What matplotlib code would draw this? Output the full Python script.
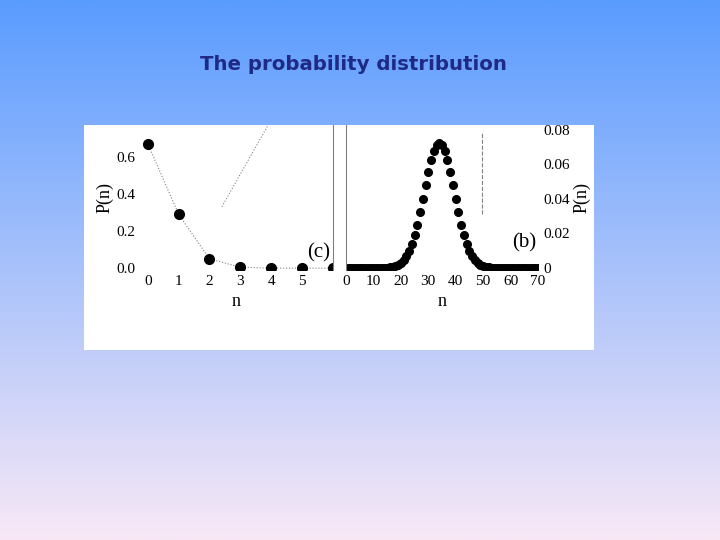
import numpy as np
import matplotlib
matplotlib.use("Agg")
import matplotlib.pyplot as plt

# left panel (small n)
n_left = [0, 1, 2, 3, 4, 5, 6]
p_left = [0.67, 0.29, 0.05, 0.005, 0.0, 0.0, 0.0]

# right panel (large n)
n_right = list(range(0, 71))
p_right = ([0.0] * 14 +
           [0.0001, 0.0002, 0.0003, 0.0006, 0.0011, 0.0018, 0.0029, 0.0044, 0.0067, 0.0098,
            0.0138, 0.0190, 0.0251, 0.0323, 0.0401, 0.0481, 0.0557, 0.0624, 0.0679, 0.0713,
            0.0725,
            0.0713, 0.0679, 0.0624, 0.0557, 0.0481, 0.0401, 0.0323, 0.0251, 0.0190, 0.0138,
            0.0098, 0.0067, 0.0044, 0.0029, 0.0018, 0.0011, 0.0006, 0.0003, 0.0002, 0.0001] +
           [0.0] * 16)

W, H = 720, 540
fig = plt.figure(figsize=(7.2, 5.4), dpi=100)

# slide background gradient
bg = fig.add_axes([0, 0, 1, 1])
top = np.array([0x5a, 0x9c, 0xff]) / 255
bot = np.array([0xf8, 0xe8, 0xf6]) / 255
t = np.linspace(0, 1, 256)[:, None]
grad = top * (1 - t) + bot * t
bg.imshow(grad[:, None, :], aspect="auto", extent=[0, 1, 0, 1])
bg.axis("off")

fig.text(353 / W, 1 - 64 / H, "The probability distribution", ha="center", va="center",
         fontsize=14.2, fontweight="bold", color="#1f2a86", family="DejaVu Sans")

# white picture area
panel = fig.add_axes([84 / W, 1 - 350 / H, 510 / W, 225 / H])
panel.set_facecolor("white")
panel.set_xticks([]); panel.set_yticks([])
for s in panel.spines.values():
    s.set_visible(False)

serif = "Liberation Serif"

def box(x0, x1, y0, y1):
    return [x0 / W, 1 - y1 / H, (x1 - x0) / W, (y1 - y0) / H]

# left axes
ax1 = fig.add_axes(box(140, 333, 125, 270))
ax1.patch.set_alpha(0)
ax1.plot(n_left, p_left, ":", color="gray", lw=0.8)
ax1.plot(n_left, p_left, "o", color="black", ms=7)
ax1.set_xlim(-0.25, 6)
ax1.set_ylim(-0.01, 0.77)
ax1.set_xticks([0, 1, 2, 3, 4, 5])
ax1.set_yticks([0.0, 0.2, 0.4, 0.6])
ax1.set_yticklabels(["0.0", "0.2", "0.4", "0.6"])
ax1.tick_params(length=0, labelsize=11, labelfontfamily=serif)
for s in ["left", "top", "bottom"]:
    ax1.spines[s].set_visible(False)
ax1.spines["right"].set_color("gray")
ax1.set_xlabel("n", fontsize=13, family=serif, labelpad=4)
ax1.set_ylabel("P(n)", fontsize=13, family=serif, labelpad=2)
ax1.text(5.55, 0.06, "(c)", fontsize=15, family=serif, ha="center")
ax1.plot([2.4, 3.9], [0.33, 0.77], ":", color="gray", lw=0.8)

# right axes
ax2 = fig.add_axes(box(346, 538, 125, 270))
ax2.patch.set_alpha(0)
ax2.plot(n_right, p_right, "o", color="black", ms=5.5)
ax2.set_xlim(0, 70)
ax2.set_ylim(-0.0012, 0.0829)
ax2.set_xticks([0, 10, 20, 30, 40, 50, 60, 70])
ax2.set_yticks([0, 0.02, 0.04, 0.06, 0.08])
ax2.set_yticklabels(["0", "0.02", "0.04", "0.06", "0.08"])
ax2.yaxis.tick_right()
ax2.yaxis.set_label_position("right")
ax2.tick_params(axis="x", length=0, labelsize=11, labelfontfamily=serif)
ax2.tick_params(axis="y", length=0, labelsize=11, labelfontfamily=serif, pad=4)
for s in ["right", "top", "bottom"]:
    ax2.spines[s].set_visible(False)
ax2.spines["left"].set_color("gray")
ax2.set_xlabel("n", fontsize=13, family=serif, labelpad=4)
ax2.set_ylabel("P(n)", fontsize=13, family=serif, labelpad=2)
ax2.text(65, 0.012, "(b)", fontsize=15, family=serif, ha="center")
ax2.plot([49.5, 49.5], [0.031, 0.079], "--", color="gray", lw=0.8)

fig.savefig("out.png", dpi=100)
